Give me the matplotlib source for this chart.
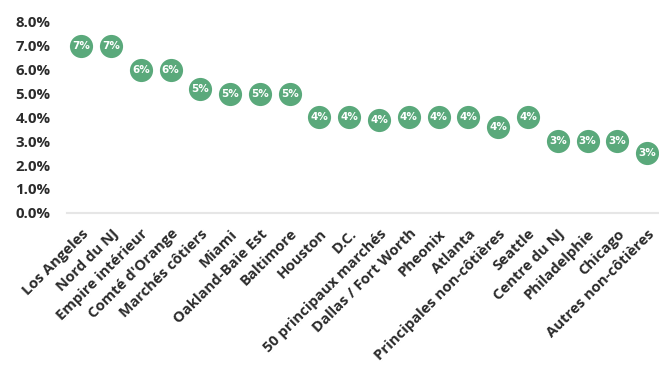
import matplotlib
matplotlib.use("Agg")
import matplotlib.pyplot as plt
from matplotlib.ticker import FuncFormatter

categories = ["Los Angeles", "Nord du NJ", "Empire intérieur", "Comté d'Orange",
              "Marchés côtiers", "Miami", "Oakland-Baie Est", "Baltimore", "Houston",
              "D.C.", "50 principaux marchés", "Dallas / Fort Worth", "Pheonix", "Atlanta",
              "Principales non-côtières", "Seattle", "Centre du NJ", "Philadelphie",
              "Chicago", "Autres non-côtières"]
values = [7.0, 7.0, 6.0, 6.0, 5.2, 5.0, 5.0, 5.0, 4.0, 4.0, 3.9, 4.0, 4.0, 4.0,
          3.6, 4.0, 3.0, 3.0, 3.0, 2.5]
labels = ["7%", "7%", "6%", "6%", "5%", "5%", "5%", "5%", "4%", "4%", "4%", "4%",
          "4%", "4%", "4%", "4%", "3%", "3%", "3%", "3%"]
yticks = [0, 1, 2, 3, 4, 5, 6, 7, 8]

green = "#5aa97b"
dark = "#2b2b2b"
plt.rcParams["font.family"] = ["Open Sans", "DejaVu Sans"]

fig = plt.figure(figsize=(6.59, 3.78), dpi=100)
ax = fig.add_axes([0.102, 0.437, 0.898, 0.505])
x = list(range(len(categories)))
ax.scatter(x, values, s=320, color=green, edgecolor="white", linewidth=1.2, zorder=3, clip_on=False)
for xi, v, lab in zip(x, values, labels):
    ax.text(xi, v, lab, ha="center", va="center", color="white", fontsize=7.5,
            fontweight="bold", family=["DejaVu Sans"], zorder=4)

ax.set_ylim(0, 8)
ax.set_xlim(-0.47, 19.4)
ax.set_yticks(yticks)
ax.yaxis.set_major_formatter(FuncFormatter(lambda v, p: f"{v:.1f}%"))
ax.set_xticks(x)
ax.set_xticklabels(categories, rotation=45, ha="right", rotation_mode="anchor")
for lab in ax.get_xticklabels():
    lab.set_fontsize(10.7)
    lab.set_fontweight("bold")
    lab.set_color(dark)
for lab in ax.get_yticklabels():
    lab.set_fontsize(10.8)
    lab.set_fontweight("bold")
    lab.set_color(dark)
ax.tick_params(axis="both", length=0)
ax.tick_params(axis="y", pad=12)
ax.tick_params(axis="x", pad=10)
for s in ["top", "right", "left"]:
    ax.spines[s].set_visible(False)
ax.spines["bottom"].set_color("#e6e6e6")
ax.spines["bottom"].set_linewidth(1.5)

fig.savefig("out.png", dpi=100)
